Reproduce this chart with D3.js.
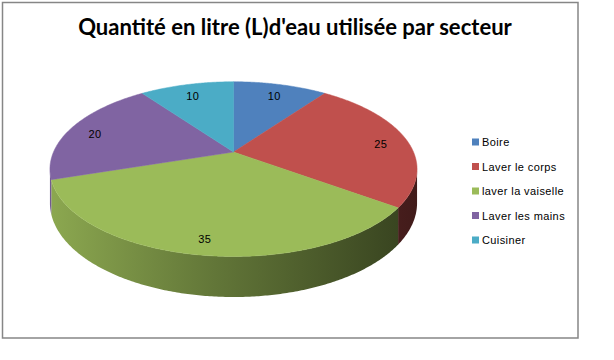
<!DOCTYPE html>
<html>
<head>
<meta charset="utf-8">
<script src="https://cdn.jsdelivr.net/npm/d3@7"></script>
<style>
  html, body { margin: 0; padding: 0; background: #fff; }
  svg { display: block; }
</style>
</head>
<body>
<svg id="chart" width="614" height="360"></svg>
<script>
// ---- data ----
const title = "Quantité en litre (L)d'eau utilisée par secteur";
const categories = ["Boire", "Laver le corps", "laver la vaiselle", "Laver les mains", "Cuisiner"];
const values = [10, 25, 35, 20, 10];
const colors = ["#4f81bd", "#c0504d", "#9bbb59", "#8064a2", "#4bacc6"];

// ---- layout ----
const W = 614, H = 360;
const cx = 233.5, cy = 152;   // projected pie centre
const A = 180, B = 84;         // horizontal / vertical radii
const k = 0.196;               // perspective factor
const D = 32.6;                // pie thickness

const svg = d3.select("#chart");
svg.append("rect").attr("width", W).attr("height", H).attr("fill", "#fff");
svg.append("rect")
  .attr("x", 2.5).attr("y", 2.5).attr("width", 575.5).attr("height", 335.5)
  .attr("fill", "#fff").attr("stroke", "#868686").attr("stroke-width", 1.5);

function proj(theta, r, down) {
  const u = r * Math.sin(theta), v = -r * Math.cos(theta);
  const w = 1 - k * v;
  return [cx + A * u / w, cy + (B * v + (down ? D : 0)) / w];
}

const pie = d3.pie().sort(null).value(d => d.value);
const arcs = pie(categories.map((c, i) => ({ name: c, value: values[i], color: colors[i] })));

// silhouette angles (extremes of the rim in x)
const thetaR = Math.acos(-k), thetaL = 2 * Math.PI - Math.acos(-k);

function rim(a0, a1, r, down) {
  const n = Math.max(2, Math.ceil(Math.abs(a1 - a0) / 0.01));
  return d3.range(n + 1).map(i => proj(a0 + (a1 - a0) * i / n, r, down));
}

const line = d3.line();

// gradients for sides
const defs = svg.append("defs");
function scaleColor(c, f) {
  const col = d3.rgb(c);
  return d3.rgb(col.r * f, col.g * f, col.b * f).formatHex();
}
arcs.forEach((a, i) => {
  const g = defs.append("linearGradient")
    .attr("id", "side" + i)
    .attr("gradientUnits", "userSpaceOnUse")
    .attr("x1", cx - A - 4).attr("x2", cx + A + 4).attr("y1", 0).attr("y2", 0);
  [[0, 0.9], [0.45, 0.63], [1, 0.34]].forEach(([o, f]) =>
    g.append("stop").attr("offset", o).attr("stop-color", scaleColor(a.data.color, f)));
});

// sides
const sideG = svg.append("g");
arcs.forEach((a, i) => {
  const s0 = Math.max(a.startAngle, thetaR), s1 = Math.min(a.endAngle, thetaL);
  if (s1 <= s0) return;
  const pts = rim(s0, s1, 1, false).concat(rim(s1, s0, 1, true));
  sideG.append("path")
    .attr("d", line(pts) + "Z")
    .attr("fill", `url(#side${i})`);
});

// tops
const topG = svg.append("g");
arcs.forEach(a => {
  const pts = [proj(0, 0, false)].concat(rim(a.startAngle, a.endAngle, 1, false));
  topG.append("path")
    .attr("d", line(pts) + "Z")
    .attr("fill", a.data.color)
    .attr("stroke", a.data.color)
    .attr("stroke-width", 0.5);
});

// labels
const labelPos = d => proj((d.startAngle + d.endAngle) / 2, 0.85, false);
svg.append("g").selectAll("text").data(arcs).join("text")
  .attr("x", d => labelPos(d)[0])
  .attr("y", d => labelPos(d)[1] + 7)
  .attr("text-anchor", "middle")
  .attr("font-family", "Liberation Sans, Arial, sans-serif")
  .attr("font-size", 11)
  .attr("letter-spacing", 0.4)
  .attr("fill", "#000")
  .text(d => d.data.value);

// legend
const ly = d3.scalePoint().domain(categories).range([142, 240]);
const leg = svg.append("g").selectAll("g").data(arcs).join("g")
  .attr("transform", d => `translate(472,${ly(d.data.name)})`);
leg.append("rect").attr("x", 0).attr("y", -3.5).attr("width", 7).attr("height", 7)
  .attr("fill", d => d.data.color);
leg.append("text").attr("x", 10).attr("y", 4)
  .attr("font-family", "Liberation Sans, Arial, sans-serif")
  .attr("font-size", 11)
  .attr("letter-spacing", 0.4)
  .attr("fill", "#000")
  .text(d => d.data.name);

// title
const t = svg.append("text")
  .attr("x", 295).attr("y", 35)
  .attr("text-anchor", "middle")
  .attr("font-family", "Lato, Open Sans, sans-serif")
  .attr("font-weight", "bold")
  .attr("font-size", 20)
  .attr("fill", "#000")
  .text(title);
const len = t.node().getComputedTextLength();
t.attr("font-size", 20 * 434 / len);
</script>
</body>
</html>
